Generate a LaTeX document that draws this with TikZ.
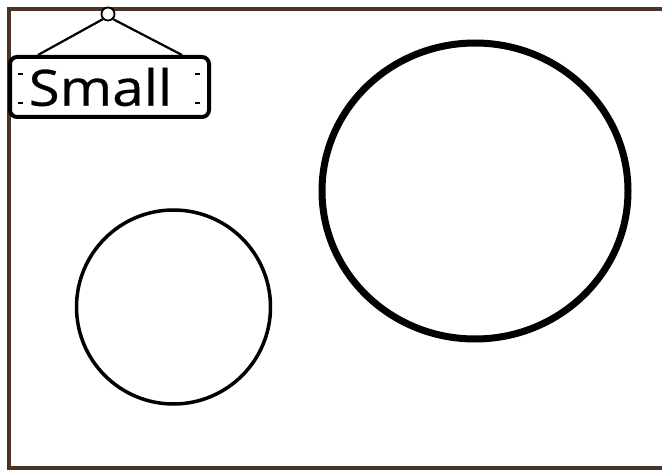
\documentclass[tikz,border=0pt]{standalone}
\usepackage{fontspec}
\setmainfont{Open Sans}
\newfontfamily\signfont[FakeStretch=1.13,FakeBold=0.6]{Open Sans}
\usetikzlibrary{calc,shapes.geometric}
\definecolor{frame-brown}{HTML}{4A3426}

\begin{document}
\begin{tikzpicture}[x=1pt,y=-1pt,
  signbox/.style={draw,line width=4pt,rounded corners=7pt,minimum width=199pt,minimum height=60pt,inner sep=0pt},
  ring/.style={draw,circle,inner sep=0pt,line width=#1},
  hook/.style={line width=2.2pt}]
  \useasboundingbox (0,0) rectangle (662,473);
  \fill[white] (0,0) rectangle (662,473);
  % frame (runs off on the right)
  \draw[frame-brown,line width=3.5pt] (670,9)--(9,9)--(9,468)--(670,468);
  % circles
  \node[draw,ellipse,inner sep=0pt,line width=7pt,minimum width=306pt,minimum height=296pt] (big) at (475,191){};
  \node[ring=3.5pt,minimum size=194pt] (small) at (173.5,307){};
  % hanging sign
  \node[signbox] (sign) at (109.5,87){};
  \node[inner sep=0pt,font=\signfont\fontsize{50}{50}\selectfont] (signtext) at ($(sign.center)+(-9,0)$){Small};
  \node[ring=1.8pt,minimum size=13pt,fill=white] (pin) at (108,14){};
  \coordinate (hl) at (38,55); \coordinate (hr) at (182,55);
  \draw[hook] (pin.south west)--(hl); \draw[hook] (pin.south east)--(hr);
  \foreach \y in {74,103}{
    \draw[line width=1.5pt] ($(sign.west)+(10,\y-87)$)--++(5,0);
    \draw[line width=1.5pt] ($(sign.east)+(-16,\y-87)$)--++(5,0);
  }
\end{tikzpicture}
\end{document}
